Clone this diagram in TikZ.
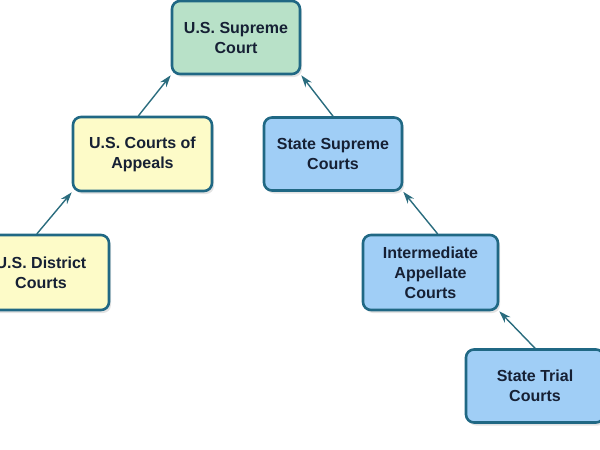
\documentclass[tikz,border=0pt]{standalone}
\usepackage{fontspec}
\setmainfont{Liberation Sans}
\usetikzlibrary{arrows.meta,shadows}
\definecolor{courtline}{RGB}{32,104,132}
\definecolor{courtarrow}{RGB}{42,108,126}
\definecolor{courttext}{RGB}{22,32,52}
\definecolor{fedgreen}{RGB}{184,225,200}
\definecolor{fedyellow}{RGB}{253,251,200}
\definecolor{stateblue}{RGB}{160,206,246}
\begin{document}
\begin{tikzpicture}[x=1pt,y=-1pt,line join=round, line cap=round,>={Stealth[length=12pt,width=8pt]}]
	\tikzset{court/.style={draw=courtline, line width=2.6pt, rounded corners=8pt, align=center,
			text=courttext, font=\fontsize{16}{20}\selectfont\bfseries, inner sep=0pt,
			drop shadow={shadow xshift=2pt, shadow yshift=-3pt, opacity=.22}},
		appeal/.style={->, draw=courtarrow, line width=1.4pt}}
	\useasboundingbox (0,0) rectangle (600,450);
	% federal side
	\node[court, fill=fedgreen, minimum width=128pt, minimum height=73pt] (supreme) at (236,37.5) {U.S. Supreme\\Court};
	\node[court, fill=fedyellow, minimum width=139pt, minimum height=74pt] (circuit) at (142.5,154) {U.S. Courts of\\Appeals};
	\node[court, fill=fedyellow, minimum width=136pt, minimum height=75pt] (district) at (41,272.5) {U.S. District\\Courts};
	% state side
	\node[court, fill=stateblue, minimum width=138pt, minimum height=73pt] (statesup) at (333,154) {State Supreme\\Courts};
	\node[court, fill=stateblue, minimum width=135pt, minimum height=75pt] (interm) at (430.5,272.5) {Intermediate\\Appellate\\Courts};
	\node[court, fill=stateblue, minimum width=138pt, minimum height=73pt] (trial) at (535,386) {State Trial\\Courts};
	% appeals
	\draw[appeal] ([xshift=-4pt]district.north) -- (circuit.south west);
	\draw[appeal] ([xshift=-4pt]circuit.north) -- (supreme.south west);
	\draw[appeal] (statesup.north) -- (supreme.south east);
	\draw[appeal] ([xshift=7pt]interm.north) -- (statesup.south east);
	\draw[appeal] (trial.north) -- (interm.south east);
\end{tikzpicture}
\end{document}
